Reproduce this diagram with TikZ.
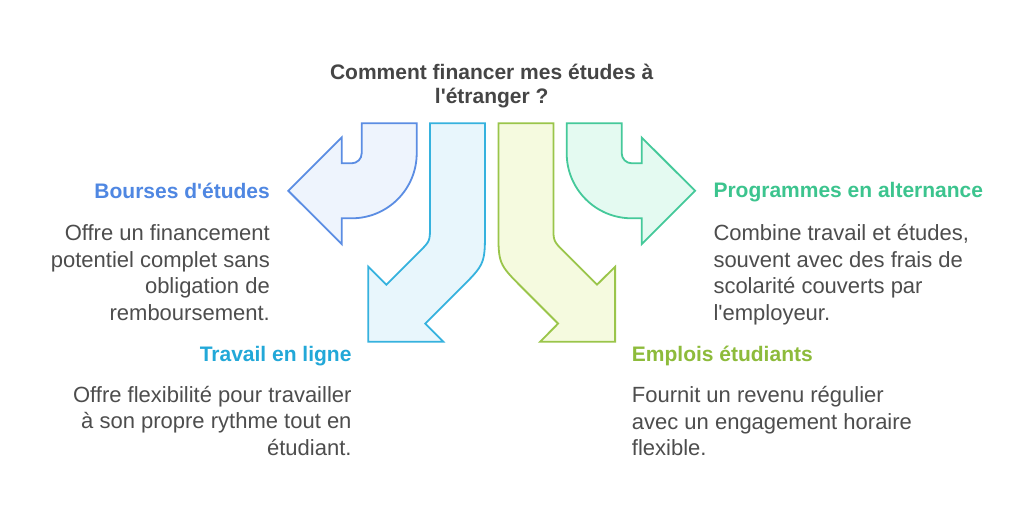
\documentclass[tikz,border=0pt]{standalone}
\usepackage{fontspec}
\newfontfamily\mainf{Liberation Sans}
\definecolor{blueS}{HTML}{5B8DE3}
\definecolor{blueF}{HTML}{EEF4FD}
\definecolor{blueT}{HTML}{4F87E2}
\definecolor{cyanS}{HTML}{36B2DE}
\definecolor{cyanF}{HTML}{E8F6FC}
\definecolor{cyanT}{HTML}{22A8D8}
\definecolor{greenS}{HTML}{9AC54A}
\definecolor{greenF}{HTML}{F5FADF}
\definecolor{greenT}{HTML}{8DBB3B}
\definecolor{tealS}{HTML}{45C99A}
\definecolor{tealF}{HTML}{E4FAF1}
\definecolor{tealT}{HTML}{3CC48E}
\definecolor{titleT}{HTML}{454545}
\definecolor{bodyT}{HTML}{4D4D4D}
\begin{document}
\begin{tikzpicture}[x=1pt,y=-1pt,
  arr/.style={line width=1.8pt, line join=miter},
  hd/.style={font=\mainf\fontsize{21}{24}\selectfont\bfseries, inner sep=0pt},
  bd/.style={font=\mainf\fontsize{22}{26.5}\selectfont, inner sep=0pt, text=bodyT}]
\fill[white] (0,0) rectangle (1024,520);
\useasboundingbox (0,0) rectangle (1024,520);
% arrow 1 (blue)
\draw[arr, draw=blueS, fill=blueF] (361.7,123.3) -- (416.7,123.3) -- (416.7,153.3)
  .. controls (416.7,189.2) and (387.6,218.3) .. (351.7,218.3) -- (341.7,218.3)
  -- (341.7,244.1) -- (288.3,190.8) -- (341.7,137.5) -- (341.7,163.3) -- (351.7,163.3)
  .. controls (357.2,163.3) and (361.7,158.8) .. (361.7,153.3) -- cycle;
% arrow 2 (cyan)
\draw[arr, draw=cyanS, fill=cyanF] (430,123.3) -- (485,123.3) -- (485,228.9)
  .. controls (485,263.9) .. (460.3,288.6) -- (425.3,323.6) -- (443.3,341.7)
  -- (368.3,341.7) -- (368.3,266.7) -- (386.4,284.7) -- (419.4,251.7)
  .. controls (430,241.1) .. (430,226.1) -- cycle;
\begin{scope}[xshift=983.4pt, xscale=-1]
% arrow 3 (green) mirror of arrow 2
\draw[arr, draw=greenS, fill=greenF] (430,123.3) -- (485,123.3) -- (485,228.9)
  .. controls (485,263.9) .. (460.3,288.6) -- (425.3,323.6) -- (443.3,341.7)
  -- (368.3,341.7) -- (368.3,266.7) -- (386.4,284.7) -- (419.4,251.7)
  .. controls (430,241.1) .. (430,226.1) -- cycle;
% arrow 4 (teal) mirror of arrow 1
\draw[arr, draw=tealS, fill=tealF] (361.7,123.3) -- (416.7,123.3) -- (416.7,153.3)
  .. controls (416.7,189.2) and (387.6,218.3) .. (351.7,218.3) -- (341.7,218.3)
  -- (341.7,244.1) -- (288.3,190.8) -- (341.7,137.5) -- (341.7,163.3) -- (351.7,163.3)
  .. controls (357.2,163.3) and (361.7,158.8) .. (361.7,153.3) -- cycle;
\end{scope}
% title
\node[hd, text=titleT, anchor=base] (title1) at (491.7,79.3) {Comment financer mes études à};
\node[hd, text=titleT, anchor=base] (title2) at (491.7,103.3) {l'étranger ?};
% headings
\node[hd, text=blueT, anchor=base east] (h1) at (270,198) {Bourses d'études};
\node[hd, text=cyanT, anchor=base east] (h2) at (351.7,361.7) {Travail en ligne};
\node[hd, text=greenT, anchor=base west] (h3) at (631.7,361.7) {Emplois étudiants};
\node[hd, text=tealT, anchor=base west] (h4) at (713.3,197.3) {Programmes en alternance};
% bodies
\node[bd, anchor=north east, align=right] (b1) at (270,224.5)
  {\rule{0pt}{16pt}Offre un financement\\potentiel complet sans\\obligation de\\remboursement.};
\node[bd, anchor=north east, align=right] (b2) at (351.7,385.7)
  {\rule{0pt}{16pt}Offre flexibilité pour travailler\\à son propre rythme tout en\\étudiant.};
\node[bd, anchor=north west, align=left] (b3) at (631.7,386.3)
  {\rule{0pt}{16pt}Fournit un revenu régulier\\avec un engagement horaire\\flexible.};
\node[bd, anchor=north west, align=left] (b4) at (713.3,224.5)
  {\rule{0pt}{16pt}Combine travail et études,\\souvent avec des frais de\\scolarité couverts par\\l'employeur.};
\end{tikzpicture}
\end{document}
